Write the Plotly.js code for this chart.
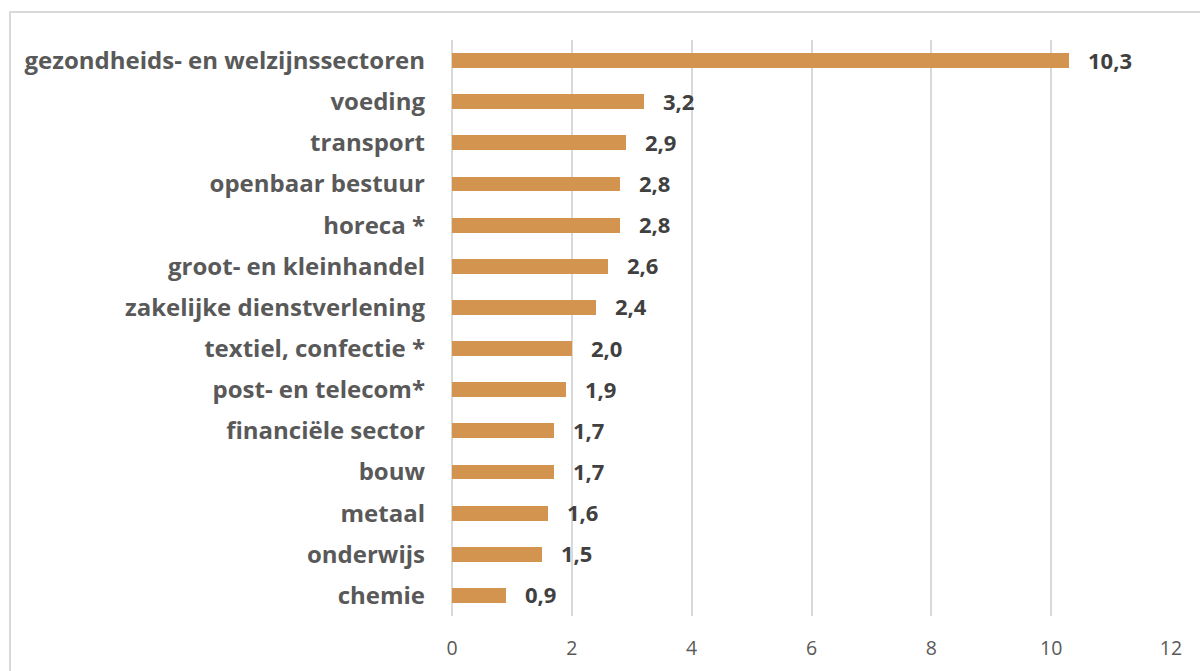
<!DOCTYPE html>
<html>
<head>
<meta charset="utf-8">
<script src="https://cdn.plot.ly/plotly-3.0.1.min.js"></script>
<style>
  html, body { margin: 0; padding: 0; background: #ffffff; }
  #frame { position: absolute; left: 9px; top: 11px; width: 1200px; height: 700px; border: 2px solid #d9d9d9; box-sizing: border-box; }
  #chart { position: absolute; left: 0; top: 0; width: 1200px; height: 671px; }
</style>
</head>
<body>
<div id="frame"></div>
<div id="chart"></div>
<script>
const categories = [
  "gezondheids- en welzijnssectoren",
  "voeding",
  "transport",
  "openbaar bestuur",
  "horeca *",
  "groot- en kleinhandel",
  "zakelijke dienstverlening",
  "textiel, confectie *",
  "post- en telecom*",
  "financiële sector",
  "bouw",
  "metaal",
  "onderwijs",
  "chemie"
];
const values = [10.3, 3.2, 2.9, 2.8, 2.8, 2.6, 2.4, 2.0, 1.9, 1.7, 1.7, 1.6, 1.5, 0.9];
const valueLabels = ["10,3", "3,2", "2,9", "2,8", "2,8", "2,6", "2,4", "2,0", "1,9", "1,7", "1,7", "1,6", "1,5", "0,9"];
const xTicks = [0, 2, 4, 6, 8, 10, 12];

const trace = {
  type: "bar",
  orientation: "h",
  y: categories,
  x: values,
  width: 0.36,
  marker: { color: "#D3944F" },
  hoverinfo: "skip"
};

const annotations = categories.map((c, i) => ({
  x: values[i],
  y: c,
  xref: "x",
  yref: "y",
  text: valueLabels[i],
  showarrow: false,
  xanchor: "left",
  yanchor: "middle",
  xshift: 17,
  yshift: 1,
  font: { family: "Open Sans", size: 22, color: "#404040", weight: 700 }
}));

const layout = {
  width: 1200,
  height: 671,
  paper_bgcolor: "rgba(0,0,0,0)",
  plot_bgcolor: "rgba(0,0,0,0)",
  margin: { l: 452, r: 29, t: 40, b: 55, pad: 0 },
  showlegend: false,
  bargap: 0,
  xaxis: {
    range: [0, 12],
    tickvals: xTicks,
    ticktext: xTicks.map(String),
    showgrid: true,
    gridcolor: "#d9d9d9",
    gridwidth: 2,
    zeroline: true,
    zerolinecolor: "#d9d9d9",
    zerolinewidth: 2,
    showline: false,
    ticks: "",
    ticklabelstandoff: 18,
    tickfont: { family: "Open Sans", size: 19.5, color: "#595959" },
    fixedrange: true
  },
  yaxis: {
    type: "category",
    categoryorder: "array",
    categoryarray: categories,
    autorange: "reversed",
    showgrid: false,
    zeroline: false,
    showline: false,
    ticks: "",
    ticklabelstandoff: 26,
    tickfont: { family: "Open Sans", size: 24, color: "#595959", weight: 700 },
    fixedrange: true
  },
  annotations: annotations
};

Plotly.newPlot("chart", [trace], layout, { displayModeBar: false, staticPlot: true });
</script>
</body>
</html>
